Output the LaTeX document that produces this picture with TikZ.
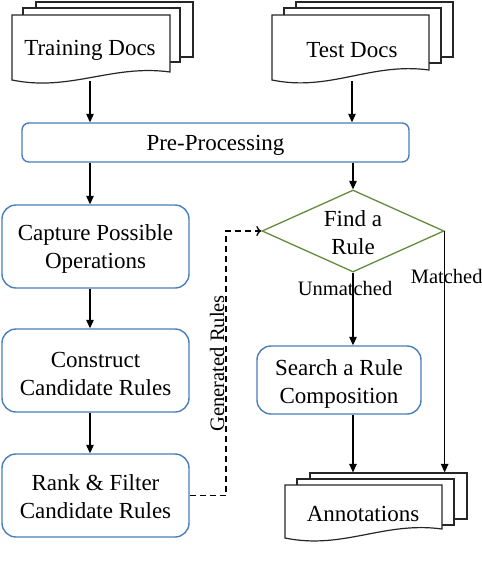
\documentclass[tikz,border=0pt]{standalone}
\usepackage{fontspec}
\setmainfont{Liberation Serif}
\usetikzlibrary{arrows.meta,shapes.geometric}
\definecolor{boxblue}{RGB}{74,126,187}
\definecolor{dgreen}{RGB}{98,140,60}
\begin{document}
\begin{tikzpicture}[x=1pt,y=-1pt,
  txt/.style={font=\fontsize{23}{28}\selectfont, align=center},
  lbl/.style={font=\fontsize{20.5}{24}\selectfont},
  procbox/.style={draw=boxblue, line width=1.4pt, rounded corners=14pt, minimum width=187pt, minimum height=83pt, inner sep=0pt},
  docline/.style={draw=black!85, line width=1.2pt, fill=white},
  arr/.style={-{Triangle[length=8.5pt,width=7.5pt]}, line width=1.1pt},
  dasharr/.style={-{To[length=5pt,width=10pt]}, line width=1.3pt, dash pattern=on 6pt off 4pt}
]
\useasboundingbox (0,0) rectangle (482,574);

% Training Docs
\path[docline] (36,2) rectangle (193,57);
\path[docline] (23,8) rectangle (180,62);
\path[docline] (12,15) -- (170,15) -- (170,72) .. controls (112,64) and (70,92) .. (12,80) -- cycle;
\node[txt, minimum height=61pt, inner sep=0pt] (train) at (90,50.5) {Training Docs};

% Test Docs
\path[docline] (296,2) rectangle (453,57);
\path[docline] (284,8) rectangle (441,63);
\path[docline] (272,15) -- (429,15) -- (429,70) .. controls (371,62) and (330,92) .. (272,80) -- cycle;
\node[txt, minimum height=61pt, inner sep=0pt] (test) at (352,50.5) {Test Docs};

% Pre-Processing
\node[draw=boxblue, line width=1.4pt, rounded corners=7pt, minimum width=387pt, minimum height=39pt, inner sep=0pt] (pre) at (215.5,142.5) {};
\node[txt] (pretxt) at ([yshift=-2.5pt]pre.center) {Pre-Processing};

% Left column
\node[procbox] (capture) at (95.5,246.5) {};
\node[txt] (capturetxt) at ([yshift=-2pt]capture.center) {Capture Possible\\Operations};
\node[procbox] (construct) at (95.5,370.5) {};
\node[txt] (constructtxt) at ([yshift=-3pt]construct.center) {Construct\\Candidate Rules};
\node[procbox] (rank) at (95.5,495.5) {};
\node[txt] (ranktxt) at ([yshift=-1.5pt]rank.center) {Rank \& Filter\\Candidate Rules};

% Decision
\node[diamond, draw=dgreen, line width=1.3pt, minimum width=182pt, minimum height=82pt, inner sep=0pt] (find) at (353,231) {};
\node[txt] (findtxt) at ([yshift=-2pt]find.center) {Find a\\Rule};

% Search
\node[draw=boxblue, line width=1.4pt, rounded corners=14pt, minimum width=164pt, minimum height=68pt, inner sep=0pt] (search) at (339,380) {};
\node[txt] (searchtxt) at ([yshift=-4pt]search.center) {Search a Rule\\Composition};

% Annotations
\node[docline, minimum width=157pt, minimum height=46pt, inner sep=0pt] (annback) at (388.5,496) {};
\path[docline] (297,479) rectangle (454,525);
\path[docline] (285,485) -- (442,485) -- (442,529) .. controls (384,521) and (343,550) .. (285,538) -- cycle;
\node[txt] (annot) at (363,514) {Annotations};

% Connectors
\draw[arr] (train.south) -- (train.south |- pre.north);
\draw[arr] (test.south) -- (test.south |- pre.north);
\draw[arr] (pre.south -| train) -- (capture.north -| train);
\draw[arr] (pre.south -| find) -- (find.north);
\draw[arr] (capture.south -| train) -- (construct.north -| train);
\draw[arr] (construct.south -| train) -- (rank.north -| train);
\draw[arr] (find.south) -- node[lbl, pos=0.22, xshift=-8pt] {Unmatched} (find.south |- search.north);
\draw[arr] (find.east) -- node[lbl, pos=0.19, xshift=2pt] {Matched} (find.east |- annback.north);
\draw[arr] (search.south -| find) -- (annback.north -| find);

\coordinate (gr) at (226,0);
\draw[dasharr] (rank.east) -- (rank.east -| gr) -- node[lbl, rotate=90, anchor=south, inner sep=1pt] {Generated Rules} (gr |- find.west) -- (find.west);
\end{tikzpicture}
\end{document}
